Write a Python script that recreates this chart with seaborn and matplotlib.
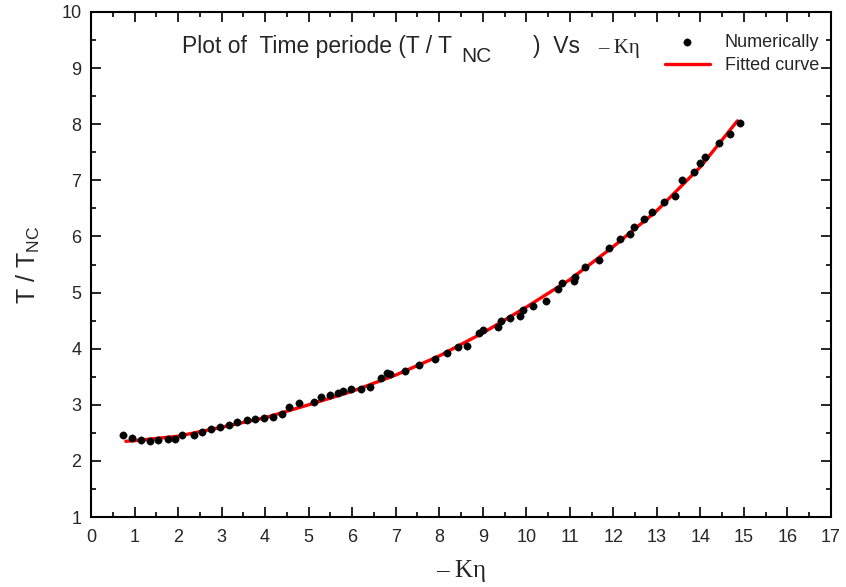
import numpy as np
import pandas as pd
import matplotlib
matplotlib.use("Agg")
import matplotlib.pyplot as plt
import seaborn as sns
from matplotlib.ticker import MultipleLocator

# ---- data ----
num_x = [0.74, 0.95, 1.15, 1.36, 1.55, 1.76, 1.94, 2.10, 2.36, 2.56, 2.75, 2.96,
         3.16, 3.35, 3.58, 3.76, 3.97, 4.18, 4.39, 4.56, 4.78, 5.13, 5.29, 5.50,
         5.68, 5.80, 5.98, 6.21, 6.40, 6.67, 6.81, 6.88, 7.21, 7.53, 7.90, 8.17,
         8.43, 8.64, 8.91, 9.01, 9.35, 9.42, 9.63, 9.86, 9.93, 10.16, 10.46, 10.72,
         10.83, 11.09, 11.11, 11.36, 11.66, 11.89, 12.15, 12.38, 12.47, 12.70, 12.89,
         13.16, 13.42, 13.58, 13.86, 14.00, 14.11, 14.43, 14.67, 14.90]
num_y = [2.46, 2.41, 2.37, 2.35, 2.37, 2.39, 2.39, 2.46, 2.46, 2.52, 2.57, 2.60,
         2.64, 2.69, 2.73, 2.75, 2.76, 2.78, 2.84, 2.96, 3.03, 3.05, 3.14, 3.17,
         3.21, 3.25, 3.28, 3.28, 3.32, 3.48, 3.57, 3.55, 3.60, 3.71, 3.82, 3.93,
         4.03, 4.05, 4.28, 4.33, 4.39, 4.49, 4.55, 4.58, 4.69, 4.76, 4.85, 5.06,
         5.17, 5.21, 5.28, 5.46, 5.58, 5.80, 5.96, 6.04, 6.17, 6.31, 6.44,
         6.61, 6.72, 7.01, 7.15, 7.31, 7.42, 7.67, 7.83, 8.02]

fit_x = [0.8, 1.0, 2.0, 3.0, 4.0, 5.0, 6.0, 7.0, 8.0, 9.0, 10.0, 11.0, 12.0, 13.0, 14.0, 14.85]
fit_y = [2.35, 2.36, 2.44, 2.60, 2.77, 3.00, 3.24, 3.53, 3.87, 4.28, 4.74, 5.23, 5.82, 6.46, 7.24, 8.06]

xticks = list(range(0, 18))
yticks = list(range(1, 11))

df_num = pd.DataFrame({"x": num_x, "y": num_y})
df_fit = pd.DataFrame({"x": fit_x, "y": fit_y})

sns.set_style("ticks")
plt.rcParams["font.family"] = ["Liberation Sans", "DejaVu Sans"]
plt.rcParams["mathtext.fontset"] = "custom"
plt.rcParams["mathtext.rm"] = "Liberation Sans"
plt.rcParams["mathtext.it"] = "Liberation Sans:italic"

W, H = 846, 587
fig = plt.figure(figsize=(W / 100, H / 100), dpi=100)
ax = fig.add_axes([91 / W, (H - 517) / H, 740 / W, 505 / H])

sns.lineplot(data=df_fit, x="x", y="y", ax=ax, color="#ff0000", linewidth=2.4,
             label="Fitted curve", sort=True, estimator=None)
sns.scatterplot(data=df_num, x="x", y="y", ax=ax, color="black", s=28,
                edgecolor="black", linewidth=0.3, label="Numerically", zorder=3)

ax.set_xlim(0, 17)
ax.set_ylim(1, 10)
ax.set_xticks(xticks)
ax.set_yticks(yticks)
ax.xaxis.set_minor_locator(MultipleLocator(0.5))
ax.yaxis.set_minor_locator(MultipleLocator(0.5))
ax.tick_params(which="both", direction="in", top=True, right=True,
               labeltop=False, labelright=False, width=1.2, color="black")
ax.tick_params(which="major", length=7, labelsize=13)
ax.tick_params(axis="x", which="major", pad=9)
ax.tick_params(axis="y", which="major", pad=7)
ax.tick_params(which="minor", length=3.5)
for s in ax.spines.values():
    s.set_linewidth(1.5)
    s.set_color("black")

ax.set_xlabel("\u2013 K\u03b7", fontsize=18, family="Liberation Serif", labelpad=10)
ax.set_ylabel(r"T / T$_{\mathrm{NC}}$", fontsize=18, labelpad=14)

# in-plot title, pieces placed like the reference
def px(x, y):
    return x / W, 1 - y / H

fig.text(*px(182, 53), "Plot of  Time periode (T / T", fontsize=16.5,
         ha="left", va="baseline")
fig.text(*px(461, 62), "NC", fontsize=15, ha="left", va="baseline")
fig.text(*px(533, 53), ")  Vs", fontsize=16.5, ha="left", va="baseline")
fig.text(*px(598, 53), "\u2013 K\u03b7", fontsize=15, family="Liberation Serif",
         ha="left", va="baseline")

# legend: scatter first then line
handles, labels = ax.get_legend_handles_labels()
order = [labels.index("Numerically"), labels.index("Fitted curve")]
leg = ax.legend([handles[i] for i in order], [labels[i] for i in order],
                loc="upper right", bbox_to_anchor=((819 - 91) / 740, (517 - 34) / 505),
                frameon=False, borderaxespad=0, borderpad=0,
                fontsize=13, handlelength=2.5, handletextpad=0.8, labelspacing=0.35)

fig.savefig("out.png", dpi=100)
